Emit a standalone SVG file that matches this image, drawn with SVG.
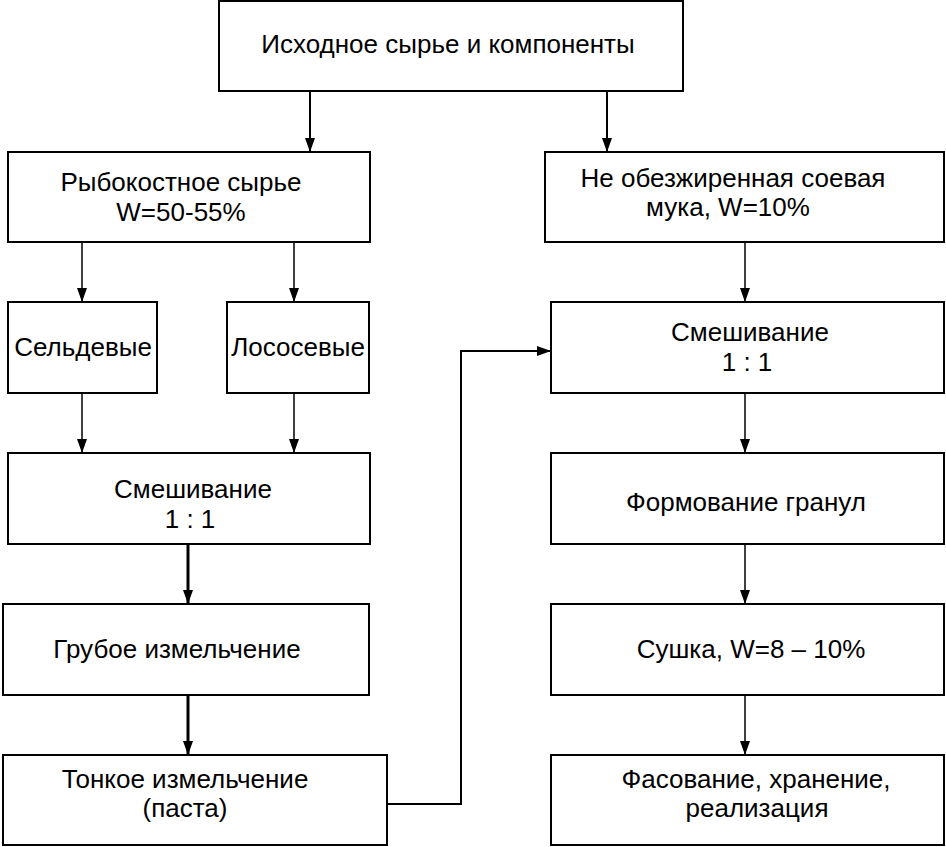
<svg xmlns="http://www.w3.org/2000/svg" width="946" height="847" viewBox="0 0 946 847">
<defs>
<marker id="ah" viewBox="0 0 14 10" refX="14" refY="5" markerWidth="14" markerHeight="10" markerUnits="userSpaceOnUse" orient="auto">
<path d="M0,0 L14,5 L0,10 z" fill="#000"/>
</marker>
<style>
.box{fill:#fff;stroke:#000;stroke-width:2}
.t{font-family:"Liberation Sans",Arial,sans-serif;font-size:26px;fill:#000;text-anchor:middle}
.c{fill:none;stroke:#000;stroke-width:2;marker-end:url(#ah)}
.thin{stroke-width:1.5}
.thick{stroke-width:3}
</style>
</defs>
<rect width="946" height="847" fill="#fff"/>
<g id="connectors">
<line class="c" x1="310" y1="91" x2="310" y2="152"/>
<line class="c" x1="607" y1="91" x2="607" y2="152"/>
<line class="c thin" x1="82" y1="242" x2="82" y2="302"/>
<line class="c thin" x1="294" y1="242" x2="294" y2="302"/>
<line class="c thin" x1="82" y1="393" x2="82" y2="453"/>
<line class="c thin" x1="294" y1="393" x2="294" y2="453"/>
<line class="c thick" x1="188" y1="544" x2="188" y2="604"/>
<line class="c thick" x1="188" y1="695" x2="188" y2="755"/>
<polyline class="c" points="387,804 461,804 461,351 551,351"/>
<line class="c thin" x1="745" y1="242" x2="745" y2="302"/>
<line class="c thin" x1="745" y1="393" x2="745" y2="453"/>
<line class="c thin" x1="745" y1="544" x2="745" y2="604"/>
<line class="c thin" x1="745" y1="695" x2="745" y2="755"/>
</g>
<g id="n-source">
<rect class="box" x="219" y="1" width="464" height="90"/>
<text class="t" x="448" y="53">Исходное сырье и компоненты</text>
</g>
<g id="n-fish">
<rect class="box" x="8" y="152" width="362" height="90"/>
<text class="t" x="181" y="191">Рыбокостное сырье</text>
<text class="t" x="181" y="221">W=50-55%</text>
</g>
<g id="n-soy">
<rect class="box" x="545" y="152" width="399" height="90"/>
<text class="t" x="733" y="187">Не обезжиренная соевая</text>
<text class="t" x="728" y="216">мука, W=10%</text>
</g>
<g id="n-herring">
<rect class="box" x="8" y="302" width="149" height="91"/>
<text class="t" x="83" y="356">Сельдевые</text>
</g>
<g id="n-salmon">
<rect class="box" x="227" y="302" width="142" height="91"/>
<text class="t" x="298" y="356">Лососевые</text>
</g>
<g id="n-mix-left">
<rect class="box" x="8" y="453" width="362" height="91"/>
<text class="t" x="193" y="498">Смешивание</text>
<text class="t" x="190" y="528">1 : 1</text>
</g>
<g id="n-coarse">
<rect class="box" x="3" y="604" width="366" height="91"/>
<text class="t" x="177" y="658">Грубое измельчение</text>
</g>
<g id="n-fine">
<rect class="box" x="3" y="755" width="384" height="90"/>
<text class="t" x="185" y="788">Тонкое измельчение</text>
<text class="t" x="185" y="817">(паста)</text>
</g>
<g id="n-mix-right">
<rect class="box" x="551" y="302" width="393" height="91"/>
<text class="t" x="750" y="341">Смешивание</text>
<text class="t" x="747" y="371">1 : 1</text>
</g>
<g id="n-granules">
<rect class="box" x="551" y="453" width="393" height="91"/>
<text class="t" x="746" y="511">Формование гранул</text>
</g>
<g id="n-drying">
<rect class="box" x="551" y="604" width="393" height="91"/>
<text class="t" x="751" y="658">Сушка, W=8 – 10%</text>
</g>
<g id="n-pack">
<rect class="box" x="551" y="755" width="393" height="90"/>
<text class="t" x="756" y="788">Фасование, хранение,</text>
<text class="t" x="757" y="817">реализация</text>
</g>
</svg>
